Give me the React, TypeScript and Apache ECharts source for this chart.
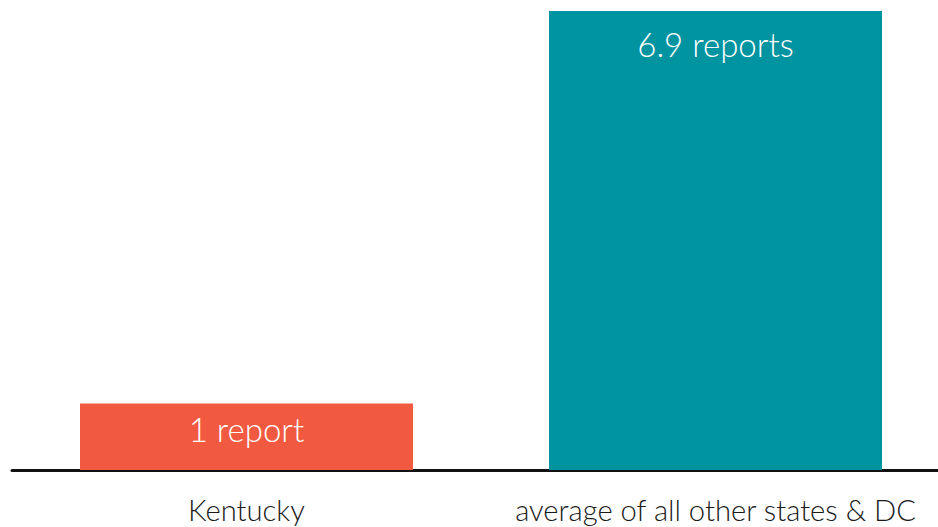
import React, { useEffect, useRef } from "react";
import * as echarts from "echarts";

const categories = ["Kentucky", "average of all other states & DC"];
const values = [1, 6.9];
const barLabels = ["1 report", "6.9 reports"];
const barColors = ["#F15A40", "#0093A0"];
const labelDistances = [9, 17];

export default function App() {
  const ref = useRef<HTMLDivElement>(null);
  useEffect(() => {
    if (!ref.current) return;
    const chart = echarts.init(ref.current, null, { renderer: "svg" });
    chart.setOption({
      animation: false,
      grid: { left: 12, top: 4.3, right: 0, height: 465.7, containLabel: false },
      xAxis: {
        type: "category",
        data: categories,
        axisLine: { show: true, lineStyle: { color: "#111", width: 3 } },
        axisTick: { show: false },
        axisLabel: {
          interval: 0,
          margin: 25,
          fontSize: 29.2,
          fontFamily: "Lato",
          fontWeight: 300,
          color: "#1a1a1a",
        },
      },
      yAxis: {
        type: "value",
        min: 0,
        max: 7,
        show: false,
        splitLine: { show: false },
      },
      series: [
        {
          type: "bar",
          barWidth: 333,
          data: values.map((v, i) => ({
            value: v,
            itemStyle: { color: barColors[i] },
            label: {
              show: true,
              position: "insideTop",
              distance: labelDistances[i],
              formatter: barLabels[i],
              color: "#fff",
              fontSize: 33,
              fontFamily: "Lato",
              fontWeight: 300,
            },
          })),
        },
      ],
    });
    return () => chart.dispose();
  }, []);
  return (
    <div style={{ position: "fixed", left: 0, top: 0, width: 938, height: 527, overflow: "hidden", background: "#fff" }}>
      <div ref={ref} style={{ width: 950, height: 527 }} />
    </div>
  );
}
